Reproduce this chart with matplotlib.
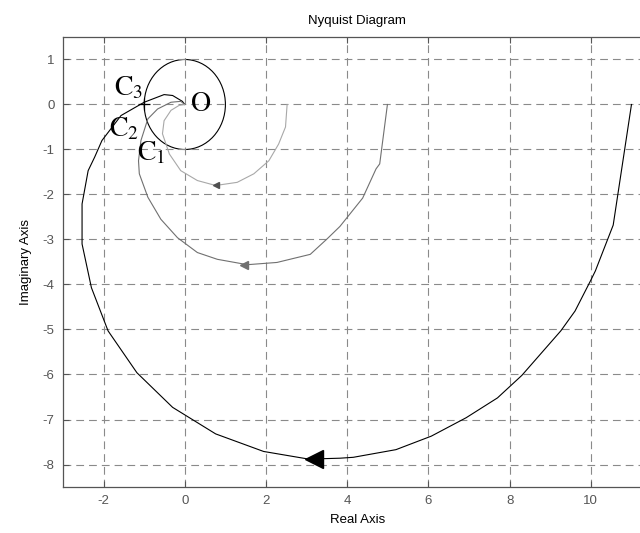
import matplotlib
matplotlib.use("Agg")

import matplotlib.pyplot as plt
from matplotlib.patches import Circle

plt.rcParams["font.family"] = ["Liberation Sans", "DejaVu Sans"]
plt.rcParams["mathtext.fontset"] = "stix"
plt.rcParams["axes.unicode_minus"] = False

c3_re = [11.0, 10.55, 10.11, 9.99, 9.61, 9.26, 8.30, 7.70, 6.93, 6.07, 5.20, 4.15, 3.82, 3.05,
         1.94, 0.76, -0.30, -1.18, -1.89, -2.30, -2.53, -2.53, -2.38, -2.22, -2.04, -1.57,
         -1.0, -0.51, -0.30, -0.06, 0.0]
c3_im = [0.0, -2.68, -3.70, -3.92, -4.59, -5.03, -6.02, -6.52, -6.96, -7.37, -7.67, -7.84, -7.86, -7.88,
         -7.71, -7.32, -6.73, -5.96, -5.03, -4.07, -3.10, -2.21, -1.47, -1.17, -0.80, -0.245,
         0.05, 0.22, 0.20, 0.07, 0.0]

c2_re = [4.99, 4.80, 4.71, 4.38, 3.82, 3.50, 3.09, 2.27, 1.54, 0.80, 0.31, -0.18, -0.59, -0.91,
         -1.12, -1.14, -1.08, -0.91, -0.67, -0.34, -0.10, 0.0]
c2_im = [0.0, -1.32, -1.43, -2.08, -2.71, -2.99, -3.33, -3.51, -3.56, -3.44, -3.29, -2.96, -2.55, -2.06,
         -1.54, -1.25, -0.80, -0.32, -0.10, 0.05, 0.07, 0.0]

c1_re = [2.52, 2.48, 2.31, 2.07, 1.70, 1.29, 0.76, 0.31, -0.10, -0.38, -0.55, -0.51, -0.34, -0.14, 0.0]
c1_im = [0.0, -0.50, -0.88, -1.25, -1.54, -1.73, -1.80, -1.69, -1.47, -1.10, -0.65, -0.36, -0.13, -0.02, 0.0]

# direction arrows on each branch
arrows = [(3.17, -7.88, "black", 13), (1.45, -3.56, "#707070", 6), (0.76, -1.80, "#505050", 4)]

fig = plt.figure(figsize=(6.4, 5.33), dpi=100)
ax = fig.add_axes([0.0984, 0.0863, 0.92, 0.8443])

ax.plot(c3_re, c3_im, color="black", lw=0.8)
ax.plot(c2_re, c2_im, color="#707070", lw=0.8)
ax.plot(c1_re, c1_im, color="#a8a8a8", lw=0.8)
for x, y, col, ms in arrows:
    ax.plot(x, y, marker="<", color=col, ms=ms, mec=col)

ax.add_patch(Circle((0, 0), 1.0, fill=False, ec="black", lw=0.8))
ax.plot(-1, 0, marker="+", color="black", ms=8, mew=0.9)

lab = dict(fontsize=20, color="black", ha="center", va="center")
ax.text(0.38, 0.0, r"$\mathrm{O}$", **lab)
ax.text(-1.38, 0.36, r"$\mathrm{C}_3$", **lab)
ax.text(-1.5, -0.54, r"$\mathrm{C}_2$", **lab)
ax.text(-0.82, -1.08, r"$\mathrm{C}_1$", **lab)

ax.set_xlim(-3, 11.5)
ax.set_ylim(-8.5, 1.5)
ax.set_xticks([-2, 0, 2, 4, 6, 8, 10])
ax.set_yticks([1, 0, -1, -2, -3, -4, -5, -6, -7, -8])

ax.grid(True, color="#8a8a8a", lw=0.8, ls=(0, (7, 4.5)))
ax.tick_params(direction="in", length=4, width=0.8, color="#555555", labelcolor="#555555",
               labelsize=9.5, top=True, right=True, pad=6)
for sp in ax.spines.values():
    sp.set_color("#555555")
    sp.set_linewidth(0.9)

ax.set_title("Nyquist Diagram", fontsize=9.5, pad=9)
ax.set_xlabel("Real Axis", fontsize=9.5, labelpad=5)
ax.set_ylabel("Imaginary Axis", fontsize=9.5, labelpad=8)

fig.savefig("out.png", dpi=100)
plt.close(fig)
